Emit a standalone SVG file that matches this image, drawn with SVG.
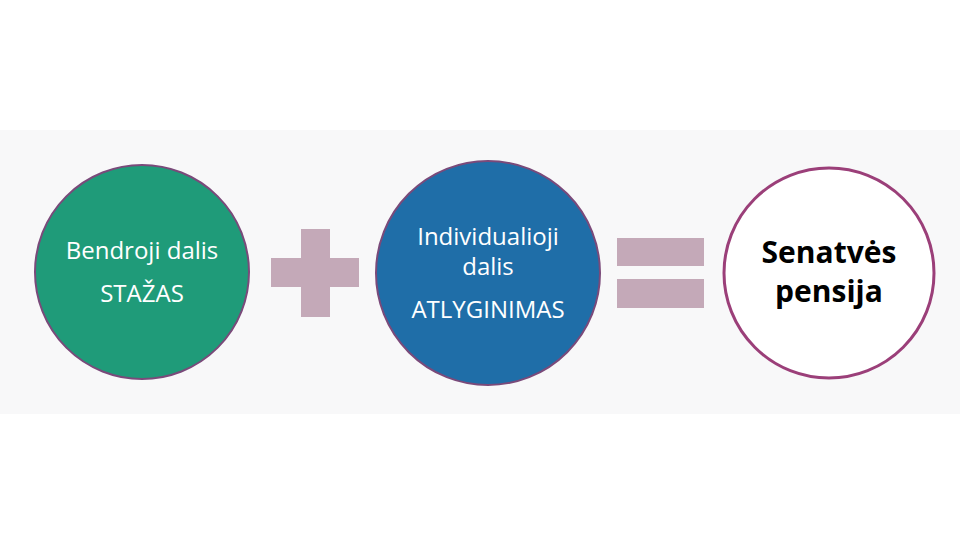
<svg xmlns="http://www.w3.org/2000/svg" width="960" height="540" viewBox="0 0 960 540">
<style>
.lbl{font-family:"Open Sans","Noto Sans","Liberation Sans",sans-serif;font-size:24px;fill:#ffffff;text-anchor:middle}
.big{font-family:"Open Sans","Noto Sans","Liberation Sans",sans-serif;font-size:30px;font-weight:bold;fill:#000000;text-anchor:middle}
.op{fill:#c4a9b8}
</style>
<rect x="0" y="0" width="960" height="540" fill="#ffffff"/>
<rect x="0" y="130" width="960" height="284" fill="#f8f8f9"/>
<g id="node-bendroji">
<circle cx="142" cy="272" r="107" fill="#1f9b79" stroke="#7a4a7a" stroke-width="2"/>
<text class="lbl" x="142" y="259">Bendroji dalis</text>
<text class="lbl" x="142" y="302">STAŽAS</text>
</g>
<g id="node-plus">
<rect class="op" x="301" y="229" width="29" height="88"/>
<rect class="op" x="271" y="258" width="88" height="29"/>
</g>
<g id="node-individualioji">
<circle cx="488" cy="273" r="112" fill="#1f6ea8" stroke="#7a4a7a" stroke-width="2"/>
<text class="lbl" x="488" y="245">Individualioji</text>
<text class="lbl" x="488" y="275">dalis</text>
<text class="lbl" x="488" y="318">ATLYGINIMAS</text>
</g>
<g id="node-equals">
<rect class="op" x="617" y="238" width="87" height="28"/>
<rect class="op" x="617" y="279" width="87" height="29"/>
</g>
<g id="node-senatves">
<circle cx="829" cy="273" r="105" fill="#ffffff" stroke="#9b3f79" stroke-width="3"/>
<text class="big" x="829" y="263">Senatvės</text>
<text class="big" x="829" y="302">pensija</text>
</g>
<g id="connectors"/>
</svg>
